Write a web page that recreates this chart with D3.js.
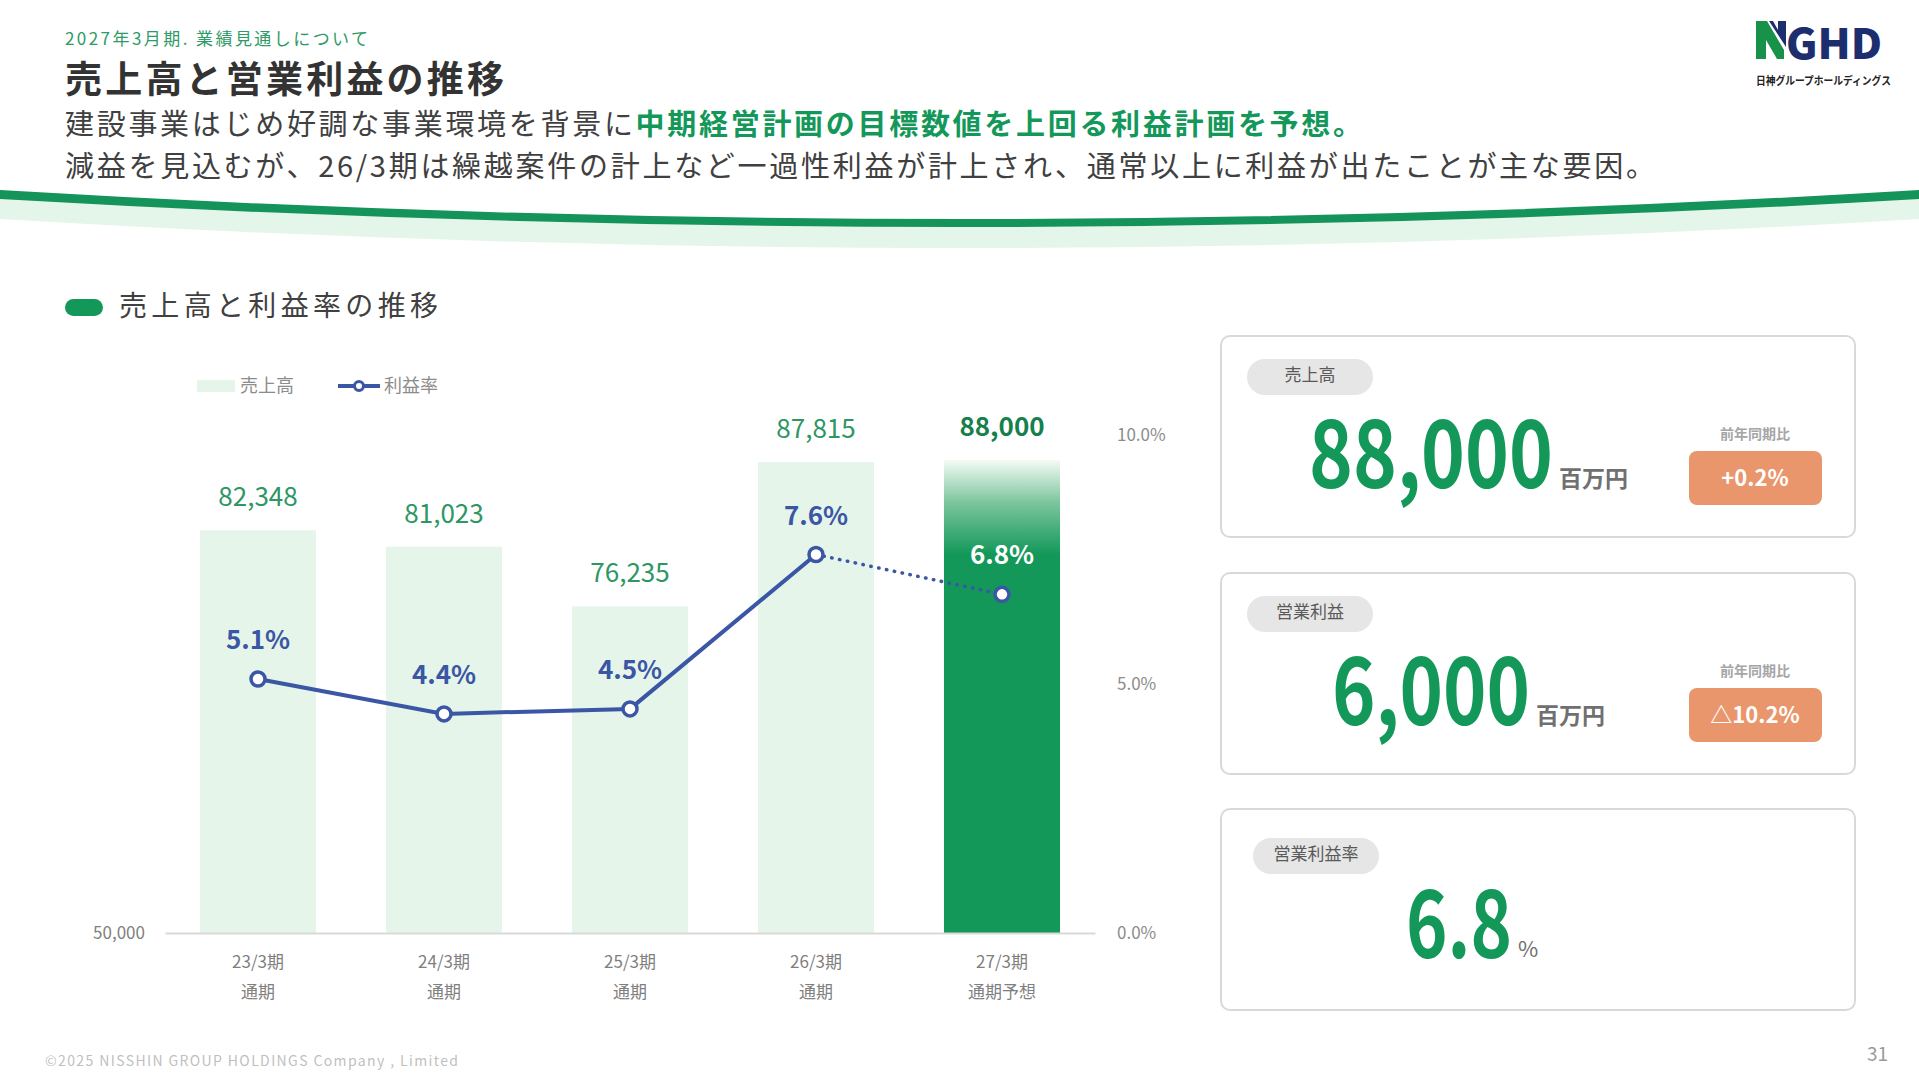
<!DOCTYPE html>
<html lang="ja">
<head>
<meta charset="utf-8">
<title>売上高と営業利益の推移</title>
<script src="https://cdn.jsdelivr.net/npm/d3@7"></script>
<style>
    html, body { margin: 0; padding: 0; background: #ffffff; }
    svg { display: block; }
    text { font-family: "Noto Sans CJK JP", "Noto Sans", sans-serif; }
</style>
</head>
<body>
<div id="slide"></div>
<script>
// chart data
var period_labels = ["23/3期", "24/3期", "25/3期", "26/3期", "27/3期"];
var period_sub_labels = ["通期", "通期", "通期", "通期", "通期予想"];
var sales_values = [82348, 81023, 76235, 87815, 88000];
var margin_values = [5.1, 4.4, 4.5, 7.6, 6.8];
var left_tick_values = [50000];
var right_tick_values = [0, 5, 10];

// summary cards
var card_titles = ["売上高", "営業利益", "営業利益率"];
var card_numbers = ["88,000", "6,000", "6.8"];
var card_units = ["百万円", "百万円", "%"];
var card_changes = ["+0.2%", "△10.2%", null];

var GREEN = "#13985a";
var LIGHT_GREEN = "#e6f5ea";
var BLUE = "#3b56a5";
var TEXT_DARK = "#404040";

window.addEventListener('load', function () {
    var svg = d3.select("#slide").append("svg")
                .attr("width", 1919)
                .attr("height", 1080);

    svg.append("rect")
       .attr("width", 1919)
       .attr("height", 1080)
       .attr("fill", "#ffffff");

    draw_header(svg);
    draw_logo(svg);
    draw_chart(svg);
    draw_cards(svg);
    draw_footer(svg);
});

// squeeze a text horizontally with a transform so its real box matches the target width
function fit_width(text_selection, x, y, target_width)
{
    var natural_width = text_selection.node().getComputedTextLength();
    var scale_x = target_width / natural_width;
    text_selection.attr("transform", "translate(" + x + "," + y + ") scale(" + scale_x + ",1)");
}

function draw_header(svg)
{
    svg.append("text")
       .attr("x", 65).attr("y", 45)
       .attr("font-size", 17)
       .attr("fill", "#2e9a66")
       .attr("textLength", 303)
       .text("2027年3月期. 業績見通しについて");

    svg.append("text")
       .attr("x", 65).attr("y", 93)
       .attr("font-size", 37)
       .attr("font-weight", 700)
       .attr("fill", "#333333")
       .attr("textLength", 439)
       .text("売上高と営業利益の推移");

    var line_one = svg.append("text")
                      .attr("x", 65).attr("y", 135)
                      .attr("font-size", 29)
                      .attr("fill", TEXT_DARK)
                      .attr("textLength", 1297);
    line_one.append("tspan").text("建設事業はじめ好調な事業環境を背景に");
    line_one.append("tspan")
            .attr("fill", GREEN)
            .attr("font-weight", 700)
            .text("中期経営計画の目標数値を上回る利益計画を予想。");

    svg.append("text")
       .attr("x", 65).attr("y", 177)
       .attr("font-size", 29)
       .attr("fill", TEXT_DARK)
       .attr("textLength", 1590)
       .text("減益を見込むが、26/3期は繰越案件の計上など一過性利益が計上され、通常以上に利益が出たことが主な要因。");

    // curved band under the header
    svg.append("path")
       .attr("d", "M0,198 Q960,256 1919,198 L1919,219 Q960,277 0,219 Z")
       .attr("fill", "#e4f5e9");

    svg.append("path")
       .attr("d", "M0,190 Q960,248 1919,190 L1919,199 Q960,255 0,199 Z")
       .attr("fill", "#14935a");
}

function draw_logo(svg)
{
    var logo = svg.append("g");

    logo.append("path")
        .attr("d", "M1756,21 L1767,21 L1784,50 L1784,59 L1777,59 L1766,40 L1766,59 L1756,59 Z")
        .attr("fill", "#18924a");

    logo.append("path")
        .attr("d", "M1769,21 L1773,21 L1778,30 L1778,21 L1786,21 L1786,47 Z")
        .attr("fill", "#1d2e6e");

    var logo_letters = logo.append("text")
                           .attr("font-family", "Roboto, sans-serif")
                           .attr("font-size", 42)
                           .attr("font-weight", 900)
                           .attr("fill", "#1d2e6e")
                           .text("GHD");
    fit_width(logo_letters, 1786, 59, 96);

    var logo_name = logo.append("text")
                        .attr("font-size", 11)
                        .attr("font-weight", 700)
                        .attr("fill", "#222222")
                        .text("日神グループホールディングス");
    fit_width(logo_name, 1756, 85, 135);
}

function draw_chart(svg)
{
    // section heading
    svg.append("rect")
       .attr("x", 65).attr("y", 299)
       .attr("width", 38).attr("height", 17)
       .attr("rx", 8.5)
       .attr("fill", GREEN);

    svg.append("text")
       .attr("x", 119).attr("y", 316)
       .attr("font-size", 28)
       .attr("fill", TEXT_DARK)
       .attr("textLength", 319)
       .text("売上高と利益率の推移");

    // legend
    svg.append("rect")
       .attr("x", 197).attr("y", 380)
       .attr("width", 38).attr("height", 12)
       .attr("fill", LIGHT_GREEN);

    svg.append("text")
       .attr("x", 240).attr("y", 392)
       .attr("font-size", 18)
       .attr("fill", "#8c8c8c")
       .text("売上高");

    svg.append("line")
       .attr("x1", 338).attr("x2", 380)
       .attr("y1", 386).attr("y2", 386)
       .attr("stroke", BLUE)
       .attr("stroke-width", 4);

    svg.append("circle")
       .attr("cx", 359).attr("cy", 386)
       .attr("r", 4.5)
       .attr("fill", "#ffffff")
       .attr("stroke", BLUE)
       .attr("stroke-width", 3);

    svg.append("text")
       .attr("x", 384).attr("y", 392)
       .attr("font-size", 18)
       .attr("fill", "#8c8c8c")
       .text("利益率");

    // scales
    var x_scale = d3.scaleBand()
                    .domain(period_labels)
                    .range([165, 1095])
                    .paddingInner(0.376)
                    .paddingOuter(0.188);

    var y_sales = d3.scaleLinear()
                    .domain([50000, 90000])
                    .range([933, 435]);

    var y_margin = d3.scaleLinear()
                     .domain([0, 10])
                     .range([933, 435]);

    var defs = svg.append("defs");
    var gradient = defs.append("linearGradient")
                       .attr("id", "forecast-fill")
                       .attr("x1", 0).attr("y1", 0)
                       .attr("x2", 0).attr("y2", 1);
    gradient.append("stop").attr("offset", "0%").attr("stop-color", "#f4fbf6");
    gradient.append("stop").attr("offset", "9%").attr("stop-color", "#7cc59d");
    gradient.append("stop").attr("offset", "20%").attr("stop-color", GREEN);
    gradient.append("stop").attr("offset", "100%").attr("stop-color", GREEN);

    var chart = svg.append("g");

    // bars
    chart.selectAll("rect.bar")
         .data(sales_values)
         .enter()
         .append("rect")
         .attr("class", "bar")
         .attr("x", function (d, i) { return x_scale(period_labels[i]); })
         .attr("y", function (d) { return y_sales(d); })
         .attr("width", x_scale.bandwidth())
         .attr("height", function (d) { return y_sales(50000) - y_sales(d); })
         .attr("fill", function (d, i) { return i === sales_values.length - 1 ? "url(#forecast-fill)" : LIGHT_GREEN; });

    // bar value labels
    chart.selectAll("text.bar-label")
         .data(sales_values)
         .enter()
         .append("text")
         .attr("class", "bar-label")
         .attr("x", function (d, i) { return x_scale(period_labels[i]) + x_scale.bandwidth() / 2; })
         .attr("y", function (d) { return y_sales(d) - 24; })
         .attr("text-anchor", "middle")
         .attr("font-size", 26)
         .attr("font-weight", function (d, i) { return i === sales_values.length - 1 ? 700 : 400; })
         .attr("fill", function (d, i) { return i === sales_values.length - 1 ? "#15804d" : "#2e9663"; })
         .text(function (d) { return d3.format(",")(d); });

    // bottom axis
    var x_axis = chart.append("g")
                      .attr("transform", "translate(0,933)")
                      .call(d3.axisBottom(x_scale).tickSize(0).tickPadding(0));

    x_axis.select(".domain")
          .attr("stroke", "#d9d9d9")
          .attr("stroke-width", 2);

    x_axis.selectAll(".tick text").remove();
    x_axis.selectAll(".tick").each(function (d, i) {
        var tick_text = d3.select(this).append("text")
                          .attr("fill", "#7f7f7f")
                          .attr("font-size", 17)
                          .attr("text-anchor", "middle");
        tick_text.append("tspan").attr("x", 0).attr("y", 35).text(d);
        tick_text.append("tspan").attr("x", 0).attr("y", 65).text(period_sub_labels[i]);
    });

    // left axis
    var left_axis = chart.append("g")
                         .attr("transform", "translate(165,0)")
                         .call(d3.axisLeft(y_sales)
                                 .tickValues(left_tick_values)
                                 .tickSize(0)
                                 .tickPadding(20)
                                 .tickFormat(d3.format(",")));
    left_axis.select(".domain").remove();
    left_axis.selectAll("text")
             .attr("font-family", "\"Noto Sans CJK JP\", sans-serif")
             .attr("font-size", 17)
             .attr("fill", "#7f7f7f");

    // right axis
    var right_axis = chart.append("g")
                          .attr("transform", "translate(1095,0)")
                          .call(d3.axisRight(y_margin)
                                  .tickValues(right_tick_values)
                                  .tickSize(0)
                                  .tickPadding(22)
                                  .tickFormat(function (d) { return d.toFixed(1) + "%"; }));
    right_axis.select(".domain").remove();
    right_axis.selectAll("text")
              .attr("font-family", "\"Noto Sans CJK JP\", sans-serif")
              .attr("font-size", 17)
              .attr("fill", "#8c8c8c");

    // margin line: actuals solid, forecast dotted
    var points = margin_values.map(function (value, index) {
        return [x_scale(period_labels[index]) + x_scale.bandwidth() / 2, y_margin(value)];
    });

    var line_generator = d3.line();

    chart.append("path")
         .attr("d", line_generator(points.slice(0, 4)))
         .attr("fill", "none")
         .attr("stroke", BLUE)
         .attr("stroke-width", 4);

    chart.append("path")
         .attr("d", line_generator(points.slice(3)))
         .attr("fill", "none")
         .attr("stroke", BLUE)
         .attr("stroke-width", 3.5)
         .attr("stroke-linecap", "round")
         .attr("stroke-dasharray", "0.5,7.5");

    chart.selectAll("circle.point")
         .data(points)
         .enter()
         .append("circle")
         .attr("class", "point")
         .attr("cx", function (d) { return d[0]; })
         .attr("cy", function (d) { return d[1]; })
         .attr("r", 7)
         .attr("fill", "#ffffff")
         .attr("stroke", BLUE)
         .attr("stroke-width", 3.5);

    chart.selectAll("text.margin-label")
         .data(margin_values)
         .enter()
         .append("text")
         .attr("class", "margin-label")
         .attr("x", function (d, i) { return points[i][0]; })
         .attr("y", function (d, i) { return points[i][1] - 30; })
         .attr("text-anchor", "middle")
         .attr("font-size", 26)
         .attr("font-weight", 700)
         .attr("fill", function (d, i) { return i === margin_values.length - 1 ? "#ffffff" : BLUE; })
         .text(function (d) { return d.toFixed(1) + "%"; });
}

function draw_cards(svg)
{
    var card_tops = [336, 573, 809];
    var number_layout = [
        {x: 1309, width: 244, unit_size: 23},
        {x: 1332, width: 198, unit_size: 23},
        {x: 1406, width: 106, unit_size: 22}
    ];

    for (var index = 0; index < card_titles.length; index++)
    {
        var top = card_tops[index];
        var layout = number_layout[index];
        var card = svg.append("g").attr("transform", "translate(0," + top + ")");

        card.append("rect")
            .attr("x", 1221).attr("y", 0)
            .attr("width", 634).attr("height", 201)
            .attr("rx", 9)
            .attr("fill", "#ffffff")
            .attr("stroke", "#d9d9d9")
            .attr("stroke-width", 2);

        var pill_x = index === 2 ? 1253 : 1247;
        var pill_y = index === 2 ? 29 : 23;
        card.append("rect")
            .attr("x", pill_x).attr("y", pill_y)
            .attr("width", 126).attr("height", 36)
            .attr("rx", 18)
            .attr("fill", "#e6e6e6");

        card.append("text")
            .attr("x", pill_x + 63).attr("y", pill_y + 22)
            .attr("text-anchor", "middle")
            .attr("font-size", 17)
            .attr("fill", "#595959")
            .text(card_titles[index]);

        var number_base = index === 2 ? 149 : 152;
        var big_number = card.append("text")
                             .attr("font-family", "Roboto, sans-serif")
                             .attr("font-size", 92)
                             .attr("font-weight", 700)
                             .attr("fill", GREEN)
                             .text(card_numbers[index]);
        fit_width(big_number, layout.x, number_base, layout.width);

        card.append("text")
            .attr("x", layout.x + layout.width + 6).attr("y", number_base - 1)
            .attr("font-size", layout.unit_size)
            .attr("font-weight", index === 2 ? 400 : 700)
            .attr("fill", "#707070")
            .text(card_units[index]);

        if (card_changes[index] !== null)
        {
            card.append("text")
                .attr("x", 1755).attr("y", 103)
                .attr("text-anchor", "middle")
                .attr("font-size", 14)
                .attr("font-weight", 700)
                .attr("fill", "#a6a6a6")
                .text("前年同期比");

            card.append("rect")
                .attr("x", 1689).attr("y", 115)
                .attr("width", 133).attr("height", 54)
                .attr("rx", 8)
                .attr("fill", "#e9966c");

            card.append("text")
                .attr("x", 1755).attr("y", 150)
                .attr("text-anchor", "middle")
                .attr("font-family", "Roboto, sans-serif")
                .attr("font-size", 22)
                .attr("font-weight", 700)
                .attr("fill", "#ffffff")
                .text(card_changes[index]);
        }
    }
}

function draw_footer(svg)
{
    svg.append("text")
       .attr("x", 45).attr("y", 1066)
       .attr("font-family", "\"Noto Sans\", sans-serif")
       .attr("font-size", 14)
       .attr("fill", "#bfbfbf")
       .attr("textLength", 413)
       .text("©2025 NISSHIN GROUP HOLDINGS Company , Limited");

    svg.append("text")
       .attr("x", 1888).attr("y", 1061)
       .attr("text-anchor", "end")
       .attr("font-family", "\"Noto Sans\", sans-serif")
       .attr("font-size", 19)
       .attr("fill", "#999999")
       .text("31");
}
</script>
</body>
</html>
